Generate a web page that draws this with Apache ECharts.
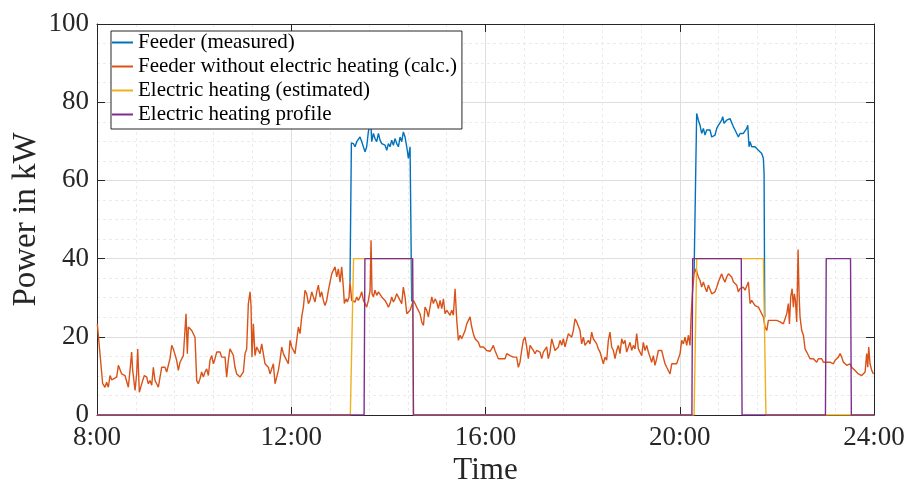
<!DOCTYPE html>
<html><head><meta charset="utf-8">
<script src="https://cdn.jsdelivr.net/npm/echarts@6/dist/echarts.min.js"></script>
<style>html,body{margin:0;padding:0;background:#fff;overflow:hidden}#c{width:907px;height:485px}</style>
</head><body><div id="c"></div>
<script>
// x values are minutes after 8:00
const xTickLabels = ['8:00', '12:00', '16:00', '20:00', '24:00'];
const seriesNames = ['Feeder (measured)', 'Feeder without electric heating (calc.)', 'Electric heating (estimated)', 'Electric heating profile'];

// Feeder without electric heating (calc.)
const baseTimes = [0.4,7.0,9.9,11.9,14.0,16.1,18.1,20.2,24.3,26.4,28.4,30.5,32.5,34.6,36.7,38.7,40.8,42.8,44.1,47.0,49.0,50.3,52.3,54.0,56.4,58.5,61.4,63.4,65.5,67.6,69.6,71.7,73.7,75.8,77.9,79.9,82.0,84.0,86.1,88.1,90.2,92.3,94.3,96.4,98.4,100.5,102.6,104.6,106.7,108.7,110.0,111.6,112.9,114.9,117.0,119.0,121.1,123.2,125.2,127.3,129.3,131.4,133.5,135.5,137.6,139.6,141.7,143.8,145.8,147.9,149.9,152.0,154.0,156.1,158.2,160.2,162.3,164.3,166.4,168.5,170.5,172.6,174.6,176.7,178.8,180.8,182.9,184.9,187.0,189.1,190.3,191.5,193.2,195.2,197.3,199.4,201.4,203.5,205.5,207.6,209.7,211.7,213.8,215.8,217.9,220.0,222.0,224.1,226.1,228.2,230.3,232.3,234.4,236.4,
238.5,240.6,244.7,248.8,250.9,252.9,255.0,257.0,259.1,261.2,263.2,265.3,267.3,269.4,271.5,273.5,275.6,277.6,279.7,281.7,283.8,285.9,287.9,290.0,292.0,294.1,296.2,298.2,300.3,302.3,304.4,305.6,307.7,309.3,311.4,312.6,314.7,316.8,318.8,320.9,322.9,325.0,327.1,329.1,331.2,333.2,335.3,337.4,338.6,339.8,341.5,343.5,345.6,347.7,349.7,351.8,353.8,355.9,358.0,360.0,362.1,364.1,366.2,368.2,370.3,372.4,374.4,376.5,378.5,380.6,382.7,384.7,386.8,388.8,390.9,393.0,395.0,397.1,399.1,401.2,403.3,405.3,407.4,409.4,411.5,413.6,415.6,417.7,419.7,421.8,423.9,425.9,428.0,430.0,432.1,434.2,436.2,438.3,440.3,442.4,444.5,446.5,448.6,450.6,452.7,454.8,456.8,458.9,460.9,463.0,465.0,467.1,469.2,471.2,473.3,477.4,481.5,485.6,
487.6,489.7,491.7,493.8,495.9,500.0,504.1,506.2,508.2,510.3,514.4,518.5,520.6,522.6,524.7,526.7,528.8,530.9,532.9,535.0,537.0,539.1,541.2,543.2,545.3,547.3,549.4,551.5,553.5,555.6,557.6,559.7,561.8,563.8,565.9,567.9,570.0,572.1,574.1,576.2,578.2,580.3,582.4,584.4,586.5,588.5,590.6,592.7,594.7,596.8,598.8,600.9,602.9,605.0,607.1,609.1,611.2,613.2,615.3,617.4,619.4,621.5,623.5,625.6,627.7,629.7,631.8,633.8,635.9,638.0,640.0,642.1,644.1,646.2,648.3,650.3,652.4,654.4,656.5,658.6,660.6,662.7,664.7,666.8,668.9,670.9,673.0,675.0,677.1,679.2,681.2,683.3,685.3,687.4,689.4,691.5,693.6,695.6,697.7,699.7,701.8,703.9,705.9,
708.0,710.1,712.1,716.2,718.3,720.4,722.4,724.5,726.5,728.6,730.7,732.7,734.0,735.6,737.7,740.1,741.8,743.0,745.1,747.1,749.2,751.2,753.3,755.4,757.4,759.5,761.5,763.6,765.7,767.7,769.8,771.8,773.9,776.0,778.0,780.1,782.1,784.2,786.3,788.3,790.4,792.4,794.5,796.6,798.6,800.7,802.7,804.8,806.9,808.9,811.0,813.0,815.1,817.2,819.2,821.3,823.3,825.4,827.5,829.5,831.6,835.7,839.8,843.9,848.0,850.1,852.2,854.2,855.5,857.1,858.8,860.4,861.6,862.9,864.5,866.2,867.4,868.6,870.7,872.8,874.8,876.9,878.9,881.0,883.1,885.1,887.2,889.2,891.3,893.4,895.4,897.5,899.5,901.6,903.7,905.7,907.8,909.8,911.9,914.0,916.0,918.1,920.1,922.2,924.2,926.3,928.4,930.4,932.5,934.5,936.6,938.7,940.7,942.8,944.8,946.9,949.0,951.0,952.3,953.5,955.1,957.2,959.3];
const baseVals = [23.3,8.0,7.1,8.4,7.1,10.1,9.0,9.3,9.7,12.7,12.9,10.5,11.0,10.1,10.5,7.1,11.4,16.1,11.4,6.3,10.5,16.9,5.8,6.3,8.8,10.1,9.7,8.0,8.8,7.6,12.2,8.8,8.0,7.1,9.7,12.2,11.8,12.2,11.0,10.5,14.4,17.8,16.9,16.5,14.0,11.4,13.5,14.0,15.2,14.8,25.9,15.7,22.5,22.1,21.6,21.2,19.9,8.8,8.0,9.3,11.0,9.7,11.0,11.8,10.1,14.0,15.2,13.1,14.4,16.1,15.7,16.1,14.8,15.2,14.8,9.7,14.0,16.9,16.1,15.2,12.2,10.5,10.1,9.7,10.1,11.0,15.7,16.9,28.5,31.5,28.0,14.8,23.3,15.2,17.4,16.9,15.7,18.2,15.7,13.1,12.7,12.2,10.5,10.1,13.1,8.0,8.0,11.4,14.0,17.4,15.7,14.8,15.2,13.1,
19.1,17.4,15.7,22.5,20.8,25.1,27.6,31.9,31.0,28.5,29.3,31.5,30.2,28.9,31.5,33.2,30.2,31.5,29.3,28.0,29.3,31.9,34.0,36.1,37.0,37.9,35.3,37.4,34.0,37.9,32.7,28.5,29.7,28.9,30.2,34.0,29.3,29.7,28.9,30.2,29.3,30.2,31.5,29.3,28.5,27.6,29.3,31.9,44.7,31.0,30.2,31.9,30.6,31.5,31.0,30.2,29.7,29.3,28.5,27.6,28.5,30.2,28.9,29.7,31.0,31.5,29.3,28.5,32.7,30.2,25.9,25.5,26.8,28.0,29.3,28.5,27.6,28.0,25.9,23.8,22.9,27.6,26.8,25.1,27.6,30.2,28.5,29.7,28.9,27.2,29.3,27.2,29.7,25.9,26.8,26.3,25.5,26.8,25.5,32.3,24.2,19.1,20.4,19.5,19.9,21.6,23.3,24.2,25.1,22.5,20.8,19.5,19.1,18.6,17.4,17.4,16.5,16.3,
16.9,17.8,16.5,16.5,14.4,14.4,14.4,15.7,16.1,15.2,14.8,14.8,12.2,13.5,16.5,19.1,19.9,17.4,14.4,17.8,18.2,16.5,15.7,16.5,16.9,16.1,14.4,16.1,16.5,17.4,14.4,16.1,19.5,19.9,16.5,16.1,17.4,19.1,17.8,19.5,17.4,17.8,20.8,21.2,19.9,21.6,24.6,23.8,24.2,21.6,18.2,19.9,17.8,18.2,19.1,18.2,21.2,19.5,19.9,18.2,16.9,16.1,15.7,13.1,14.8,14.0,19.1,21.2,17.4,16.5,14.4,16.5,17.8,15.7,19.5,18.2,19.1,16.1,16.5,18.6,16.5,17.8,16.9,20.8,16.9,16.5,15.2,18.6,16.5,17.8,16.1,14.8,13.5,15.2,12.7,14.4,16.5,16.9,16.5,14.8,13.1,12.2,12.7,
10.5,13.1,13.5,13.1,13.5,15.7,19.1,18.2,19.9,17.8,20.4,17.8,25.1,31.0,36.1,37.4,36.1,35.3,34.4,32.7,34.0,32.7,31.5,33.2,32.7,31.0,31.0,31.5,32.7,34.0,33.6,36.1,34.8,34.0,35.3,36.1,35.7,35.3,34.0,33.6,33.2,31.5,32.3,31.9,32.7,31.9,32.3,34.0,28.5,29.3,28.9,28.0,28.5,27.6,27.2,25.9,25.1,22.5,21.6,24.2,24.6,24.2,24.2,23.8,23.3,23.8,25.9,28.5,23.3,30.2,32.3,27.6,31.0,29.3,23.8,42.3,31.0,25.1,21.6,20.4,16.9,16.1,15.7,14.4,14.0,14.4,14.0,13.5,14.4,14.0,14.4,13.5,13.1,13.5,13.1,13.5,14.0,13.1,14.0,14.4,14.8,15.7,14.8,13.5,13.1,12.7,12.7,13.1,12.2,11.8,11.4,11.0,10.5,10.1,10.1,10.5,11.0,15.7,12.2,17.4,13.1,11.4,10.5];

// Feeder (measured): differs from the line above only while heating runs (null = gap)
const feederTimes = [312.6,314.3,316.8,318.8,320.9,322.9,325.0,327.1,329.1,331.2,333.2,335.3,337.4,338.6,339.4,341.5,343.5,345.6,347.7,349.7,351.8,353.8,355.9,358.0,360.0,362.1,364.1,366.2,368.2,370.3,372.4,374.4,376.5,378.5,380.6,382.7,384.7,386.0,386.8,387.6,388.8,
600,
737.7,740.9,741.8,743.0,745.1,747.1,749.2,751.2,753.3,755.4,757.4,759.5,761.5,763.6,765.7,767.7,769.8,771.8,773.1,774.7,776.0,778.0,780.1,782.1,784.2,786.3,788.3,790.4,792.4,794.5,796.6,798.6,800.7,802.7,804.0,805.6,806.9,808.9,811.0,813.0,815.1,817.2,819.2,821.3,823.3,824.2,825.0];
const feederVals = [34.0,69.6,69.4,68.6,69.9,69.4,71.1,69.9,68.6,67.3,68.6,72.5,74.5,73.7,69.9,72.0,70.7,69.9,72.0,70.3,69.4,69.9,69.0,67.7,69.4,68.6,70.3,69.0,70.7,69.4,68.6,71.1,69.9,72.4,71.1,68.6,65.6,66.0,68.6,68.2,29.0,
null,
36.1,77.1,76.7,75.4,74.1,72.0,73.3,71.6,72.9,73.3,72.9,71.1,71.1,71.6,73.3,74.1,73.7,75.4,76.3,74.6,74.1,75.4,75.8,75.8,75.4,73.7,72.9,72.4,71.1,72.0,72.4,72.0,72.4,73.3,74.1,68.6,69.9,68.6,69.0,68.6,69.0,67.7,67.3,66.9,65.6,61.8,25.0];

// Electric heating (estimated)
const heatTimes = [0, 313, 317, 389.5, 391, 737.7, 741, 823.3, 826.5, 960];
const heatVals  = [0, 0, 40, 40, 0, 0, 40, 40, 0, 0];

// Electric heating profile
const profTimes = [0, 330, 331, 390, 391, 735, 736, 796, 797, 900, 901, 931, 932, 960];
const profVals  = [0, 0, 40, 40, 0, 0, 40, 40, 0, 0, 40, 40, 0, 0];

const colors = ['#0072BD', '#D95319', '#EDB120', '#7E2F8E'];
const FONT = 'Liberation Serif';
const AX = '#262626';

function pairs(t, v) { return t.map((x, i) => [x, v[i] === null ? '-' : v[i]]); }

const chart = echarts.init(document.getElementById('c'), null, { renderer: 'canvas' });

const baseAxis = {
  type: 'value',
  axisLine: { show: true, onZero: false, lineStyle: { color: AX, width: 1 } },
  axisTick: { show: true, inside: true, length: 8, lineStyle: { color: AX, width: 1 } },
  minorTick: { show: false },
};

chart.setOption({
  animation: false,
  backgroundColor: '#fff',
  color: colors,
  grid: { left: 97, right: 33, top: 24, bottom: 70, containLabel: false, outerBoundsMode: 'none' },
  xAxis: [
    Object.assign({}, baseAxis, {
      position: 'bottom', min: 0, max: 960, interval: 240,
      minorTick: { show: false, splitNumber: 5 },
      axisLabel: { color: AX, fontFamily: FONT, fontSize: 27, margin: 9,
        formatter: v => xTickLabels[Math.round(v / 240)] },
      splitLine: { show: true, lineStyle: { color: '#dedede', width: 1 } },
      minorSplitLine: { show: true, lineStyle: { color: '#ebebeb', width: 1, type: [3, 3] } },
      name: 'Time', nameLocation: 'middle', nameGap: 40, nameMoveOverlap: false,
      nameTextStyle: { color: AX, fontFamily: FONT, fontSize: 31 }
    }),
    Object.assign({}, baseAxis, {
      position: 'top', min: 0, max: 960, interval: 240,
      axisLabel: { show: false }, splitLine: { show: false }
    })
  ],
  yAxis: [
    Object.assign({}, baseAxis, {
      position: 'left', min: 0, max: 100, interval: 20,
      minorTick: { show: false, splitNumber: 4 },
      axisLabel: { color: AX, fontFamily: FONT, fontSize: 27, margin: 8 },
      splitLine: { show: true, lineStyle: { color: '#dedede', width: 1 } },
      minorSplitLine: { show: true, lineStyle: { color: '#ebebeb', width: 1, type: [3, 3] } },
      name: 'Power in kW', nameLocation: 'middle', nameGap: 54, nameMoveOverlap: false,
      nameTextStyle: { color: AX, fontFamily: FONT, fontSize: 33 }
    }),
    Object.assign({}, baseAxis, {
      position: 'right', min: 0, max: 100, interval: 20,
      axisLabel: { show: false }, splitLine: { show: false }
    })
  ],
  legend: {
    data: seriesNames.map(n => ({ name: n, icon: 'rect' })),
    orient: 'vertical', left: 111, top: 31,
    backgroundColor: '#fff', borderColor: AX, borderWidth: 1,
    padding: [1, 5, 4, 1], itemGap: 3, itemWidth: 21, itemHeight: 2,
    textStyle: { color: '#000', fontFamily: FONT, fontSize: 21, height: 21, lineHeight: 21 },
    z: 10
  },
  series: [
    { name: seriesNames[0], type: 'line', data: pairs(feederTimes, feederVals), connectNulls: false },
    { name: seriesNames[1], type: 'line', data: pairs(baseTimes, baseVals) },
    { name: seriesNames[2], type: 'line', data: pairs(heatTimes, heatVals) },
    { name: seriesNames[3], type: 'line', data: pairs(profTimes, profVals) }
  ].map(s => Object.assign(s, {
    xAxisIndex: 0, yAxisIndex: 0, symbol: 'none', showSymbol: false,
    lineStyle: { width: 1.4 }, emphasis: { disabled: true }
  }))
});
</script>
</body></html>
